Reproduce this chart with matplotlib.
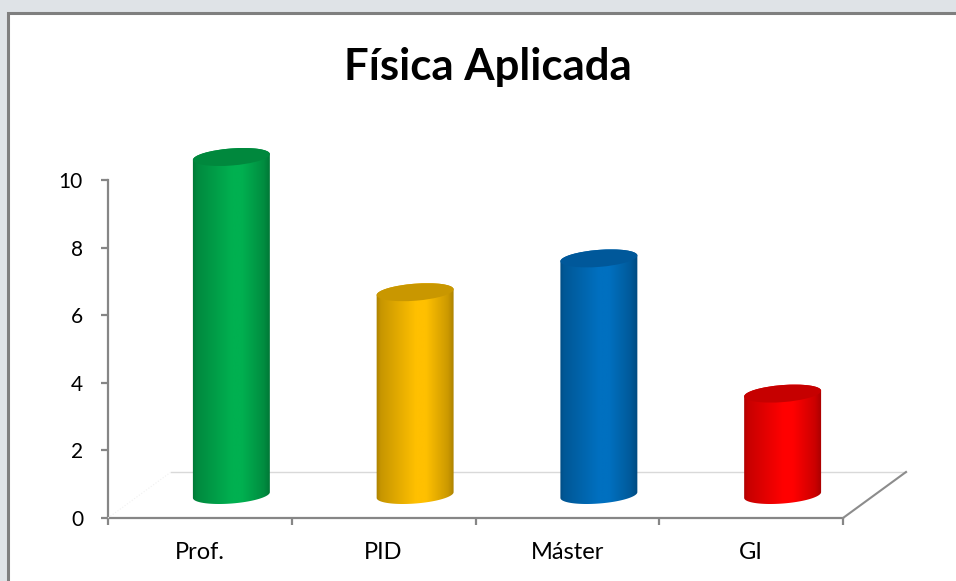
import numpy as np
import matplotlib
matplotlib.use('Agg')
import matplotlib.pyplot as plt
from matplotlib.patches import Rectangle, Ellipse, PathPatch
from matplotlib.path import Path
from matplotlib.colors import to_rgb

# ---- data ----
categories = ['Prof.', 'PID', 'Máster', 'GI']
values = [10, 6, 7, 3]
colors = ['#00B050', '#FFC000', '#0070C0', '#FF0000']
top_colors = ['#00883D', '#C99700', '#00589A', '#C60000']
title = 'Física Aplicada'
yticks = [0, 2, 4, 6, 8, 10]

W, H = 956, 581
fig = plt.figure(figsize=(W / 100, H / 100), dpi=100)
fig.patch.set_facecolor('#dfe3e7')

FONT = ['Lato', 'DejaVu Sans']

# background panel
bg = fig.add_axes([0, 0, 1, 1], zorder=0)
bg.set_xlim(0, W); bg.set_ylim(0, H); bg.axis('off')
bg.add_patch(Rectangle((8, -10), W + 20, (H - 13) + 10, facecolor='white',
                       edgecolor='#7f7f7f', linewidth=2.2))
bg.text(488, H - 67, title, ha='center', va='center', fontsize=31.5,
        fontweight='bold', family=FONT, color='black')

# main axes
ax = fig.add_axes([108 / W, (H - 518) / H, (843 - 108) / W, (518 - 180) / H], zorder=1)
ax.patch.set_alpha(0)
ax.set_xlim(-0.5, len(categories) - 0.5)
ax.set_ylim(0, 10)
for s in ['top', 'right']:
    ax.spines[s].set_visible(False)
for s in ['left', 'bottom']:
    ax.spines[s].set_color('#868686')
    ax.spines[s].set_linewidth(1.6)
ax.set_yticks(yticks)
ax.set_yticklabels([str(t) for t in yticks], family=FONT, fontsize=15)
ax.tick_params(axis='y', length=5, width=1.6, color='#868686', pad=13)
ax.set_xticks(np.arange(len(categories) + 1) - 0.5)
ax.set_xticklabels([])
ax.tick_params(axis='x', which='major', length=5, width=1.6, color='#868686')
ax.set_xticks(np.arange(len(categories)), minor=True)
ax.set_xticklabels(categories, minor=True, family=FONT, fontsize=17)
ax.tick_params(axis='x', which='minor', length=0, pad=17)

# overlay for pseudo-3D elements
ov = fig.add_axes([0, 0, 1, 1], zorder=2)
ov.set_xlim(0, W); ov.set_ylim(0, H); ov.axis('off')
ov.patch.set_alpha(0)

dx, dy = 63, 46  # depth of the floor in pixels
p0 = ax.transData.transform((-0.5, 0))
p1 = ax.transData.transform((len(categories) - 0.5, 0))
ov.plot([p0[0] + dx, p1[0] + dx], [p0[1] + dy, p1[1] + dy], color='#d9d9d9', lw=1, zorder=1)
ov.plot([p1[0], p1[0] + dx], [p1[1], p1[1] + dy], color='#8c8c8c', lw=1.5, zorder=1)
ov.plot([p0[0], p0[0] + dx], [p0[1], p0[1] + dy], color='#f0f0f0', lw=0.8, ls=':', zorder=1)

bar_w = 0.42
b = 8.5
tilt = np.deg2rad(4.5)
ct, st = np.cos(tilt), np.sin(tilt)

tpos = [0, 0.08, 0.5, 0.62, 0.88, 1.0]
mult = [0.62, 0.78, 1.0, 1.0, 0.8, 0.6]


def shade(c, m):
    c = np.array(c)
    if m <= 1:
        return c * m
    return c + (1 - c) * (m - 1)


for i, (v, c, tc) in enumerate(zip(values, colors, top_colors)):
    cx, y0 = ax.transData.transform((i, 0))
    _, y1 = ax.transData.transform((i, v))
    w = (ax.transData.transform((i + bar_w / 2, 0))[0] - cx)
    cx += dx / 2; y0 += dy / 2; y1 += dy / 2

    def ell(yc, t):
        x = w * np.cos(t); y = b * np.sin(t)
        return np.column_stack([cx + x * ct - y * st, yc + x * st + y * ct])

    top = ell(y1, np.linspace(0, np.pi, 60))
    bot = ell(y0, np.linspace(np.pi, 2 * np.pi, 60))
    verts = np.vstack([top, bot, top[:1]])
    path = Path(verts)
    clip = PathPatch(path, transform=ov.transData, fc='none', ec='none')

    base = to_rgb(c)
    tt = np.linspace(0, 1, 200)
    m = np.interp(tt, tpos, mult)
    grad = np.array([shade(base, mm) for mm in m])[None, :, :]
    im = ov.imshow(grad, extent=[cx - w - 3, cx + w + 3, y0 - b - 6, y1 + b + 6],
                   aspect='auto', interpolation='bilinear', zorder=3)
    im.set_clip_path(clip)
    ov.add_patch(Ellipse((cx, y1), 2 * w, 2 * b, angle=np.rad2deg(tilt),
                         facecolor=tc, edgecolor='none', zorder=4))

ov.set_xlim(0, W); ov.set_ylim(0, H)
fig.savefig('out.png', dpi=100)
